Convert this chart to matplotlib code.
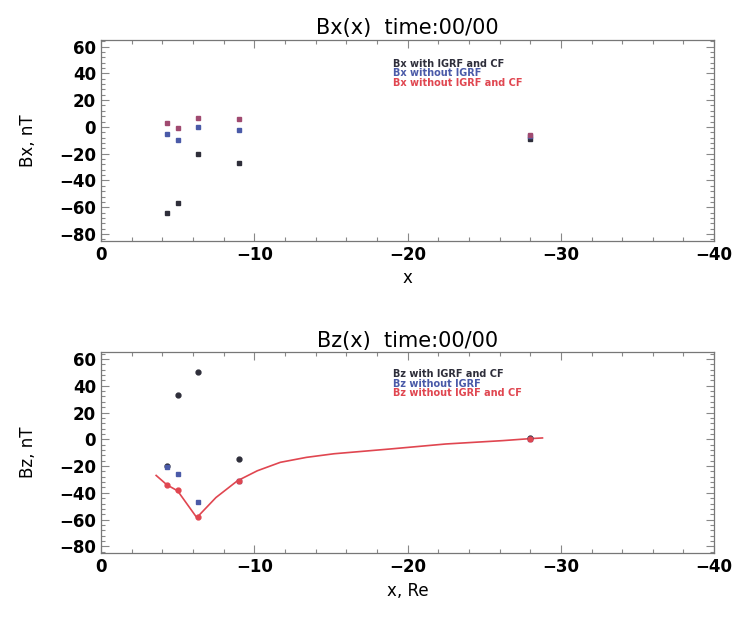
import matplotlib.pyplot as plt
from matplotlib.ticker import MultipleLocator

# spacecraft positions (Re)
x_sc = [-4.3, -5.0, -6.3, -9.0, -28.0]

# Bx panel
bx_with = [-64, -57, -20, -27, -9]
bx_noigrf = [-5, -10, 0, -2, -7]
bx_nocf = [3, -1, 7, 6, -6]

# Bz panel
bz_with = [-20, 33, 50, -15, 1]
bz_noigrf = [-20.5, -26, -47, -31, 0.5]
bz_nocf = [-34.5, -38, -58, -31, 0.5]

# model curve (Bz without IGRF and CF)
curve_x = [-3.6, -4.3, -5.0, -6.25, -7.5, -8.9, -10.2, -11.7, -13.4, -15.2,
           -18.9, -22.5, -26.2, -28.0, -28.8]
curve_y = [-27, -34, -38.5, -58.5, -43.5, -31, -23.5, -17.2, -13.5, -10.8,
           -7.2, -3.5, -1, 0.5, 1]

c_black = '#2e2e3a'
c_blue = '#4a5aa8'
c_red = '#e04650'

plt.rcParams['font.family'] = 'DejaVu Sans'
plt.rcParams['font.weight'] = 'bold'

fig = plt.figure(figsize=(7.37, 6.18), dpi=100)
ax1 = fig.add_axes([0.137, 0.6105, 0.832, 0.325])
ax2 = fig.add_axes([0.137, 0.105, 0.832, 0.325])


def style(ax):
    ax.set_xlim(0, -40)
    ax.set_ylim(-85, 65)
    ax.set_xticks([0, -10, -20, -30, -40])
    ax.set_yticks([60, 40, 20, 0, -20, -40, -60, -80])
    ax.xaxis.set_minor_locator(MultipleLocator(2))
    ax.yaxis.set_minor_locator(MultipleLocator(4))
    ax.tick_params(which='both', direction='in', top=True, right=True,
                   color='#888888', labelsize=12, width=0.8)
    ax.tick_params(which='major', length=6)
    ax.tick_params(which='minor', length=3)
    for s in ax.spines.values():
        s.set_color('#777777')
        s.set_linewidth(0.9)


style(ax1)
ax1.plot(x_sc, bx_with, 's', ms=3.5, color=c_black)
ax1.plot(x_sc, bx_noigrf, 's', ms=3.5, color=c_blue)
ax1.plot(x_sc, bx_nocf, 's', ms=3.5, color='#a04a70')
ax1.set_title('Bx(x)  time:00/00', fontsize=15, fontweight='normal', pad=4)
ax1.set_xlabel('x', fontsize=12, labelpad=4)
ax1.set_ylabel('Bx, nT', fontsize=12, labelpad=16)
ax1.text(0.476, 0.88, 'Bx with IGRF and CF', color=c_black, fontsize=7,
         transform=ax1.transAxes, va='center')
ax1.text(0.476, 0.833, 'Bx without IGRF', color=c_blue, fontsize=7,
         transform=ax1.transAxes, va='center')
ax1.text(0.476, 0.787, 'Bx without IGRF and CF', color=c_red, fontsize=7,
         transform=ax1.transAxes, va='center')

style(ax2)
ax2.plot(curve_x, curve_y, '-', lw=1.2, color=c_red)
ax2.plot(x_sc, bz_with, 'o', ms=3.5, color=c_black)
ax2.plot(x_sc, bz_noigrf, 's', ms=3.5, color=c_blue)
ax2.plot(x_sc, bz_nocf, 'o', ms=3.5, color=c_red)
ax2.set_title('Bz(x)  time:00/00', fontsize=15, fontweight='normal', pad=4)
ax2.set_xlabel('x, Re', fontsize=12, labelpad=4)
ax2.set_ylabel('Bz, nT', fontsize=12, labelpad=16)
ax2.text(0.476, 0.89, 'Bz with IGRF and CF', color=c_black, fontsize=7,
         transform=ax2.transAxes, va='center')
ax2.text(0.476, 0.843, 'Bz without IGRF', color=c_blue, fontsize=7,
         transform=ax2.transAxes, va='center')
ax2.text(0.476, 0.797, 'Bz without IGRF and CF', color=c_red, fontsize=7,
         transform=ax2.transAxes, va='center')

fig.savefig('out.png', dpi=100)
